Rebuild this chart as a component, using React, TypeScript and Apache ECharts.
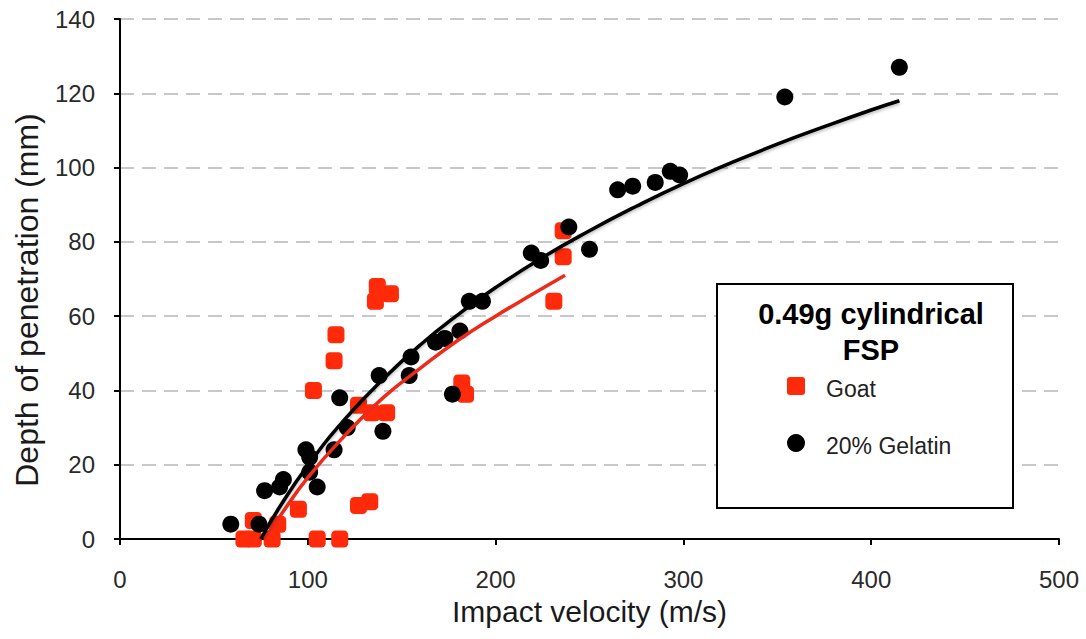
import React, { useEffect, useRef } from "react";
import * as echarts from "echarts";

// Goat (red squares): [impact velocity m/s, depth mm]
const goatPoints: number[][] = [
  [66, 0], [71, 0], [81, 0], [105, 0], [117, 0],
  [71, 5], [84, 4], [95, 8], [127, 9], [133, 10],
  [103, 40], [114, 48], [115, 55], [127, 36], [134, 34], [142, 34],
  [136, 64], [137, 68], [144, 66], [182, 42], [184, 39],
  [231, 64], [236, 83], [236, 76],
];

// 20% Gelatin (black circles)
const gelatinPoints: number[][] = [
  [59, 4], [74, 4], [77, 13], [85, 14], [87, 16], [99, 24], [101, 22],
  [101, 18], [105, 14], [114, 24], [117, 38], [121, 30], [140, 29],
  [138, 44], [154, 44], [155, 49], [168, 53], [173, 54], [181, 56],
  [177, 39], [186, 64], [193, 64], [219, 77], [224, 75], [239, 84],
  [250, 78], [265, 94], [273, 95], [285, 96], [293, 99], [298, 98],
  [354, 119], [415, 127],
];

// Trend curves
const goatTrend: number[][] = [
  [77, 0], [85, 6], [100, 16.5], [120, 28], [140, 38], [160, 46],
  [180, 53.5], [200, 60], [220, 66], [237, 71],
];
const gelatinTrend: number[][] = [
  [75, 0], [85, 8.6], [100, 19.8], [120, 32.4], [140, 43], [160, 52.3],
  [180, 60.4], [200, 67.7], [225, 75.8], [250, 83], [275, 89.6],
  [300, 95.7], [325, 101.2], [350, 106.3], [375, 111], [400, 115.5], [415, 118],
];

const xTitle = "Impact velocity (m/s)";
const yTitle = "Depth of penetration (mm)";
const legendTitle = ["0.49g cylindrical", "FSP"];
const goatName = "Goat";
const gelatinName = "20% Gelatin";

const RED = "#ff2a0a";
const FONT = "'Liberation Sans', Arial, Helvetica, sans-serif";

export default function App() {
  const ref = useRef<HTMLDivElement>(null);
  useEffect(() => {
    if (!ref.current) return;
    const chart = echarts.init(ref.current, null, { renderer: "svg" });
    const axisLineStyle = { color: "#000", width: 2 };
    chart.setOption({
      animation: false,
      backgroundColor: "#fff",
      grid: { left: 120, right: 27, top: 19, bottom: 100 },
      xAxis: {
        type: "value",
        min: 0,
        max: 500,
        interval: 100,
        name: xTitle,
        nameLocation: "middle",
        nameGap: 57,
        nameTextStyle: { fontSize: 30, color: "#1a1a1a", fontFamily: FONT },
        axisLine: { show: true, onZero: false, lineStyle: axisLineStyle },
        axisTick: { show: true, length: 6, lineStyle: axisLineStyle },
        axisLabel: { fontSize: 24, color: "#2a2a2a", margin: 28, fontFamily: FONT },
        splitLine: { show: false },
      },
      yAxis: {
        type: "value",
        min: 0,
        max: 140,
        interval: 20,
        axisLine: { show: true, onZero: false, lineStyle: axisLineStyle },
        axisTick: { show: true, length: 6, lineStyle: axisLineStyle },
        axisLabel: { fontSize: 24, color: "#2a2a2a", margin: 25, fontFamily: FONT },
        splitLine: {
          show: true,
          lineStyle: { color: "#c8c8c8", width: 2, type: [14, 8] },
        },
      },
      series: [
        {
          name: goatName,
          type: "scatter",
          data: goatPoints,
          symbol: "roundRect",
          symbolSize: 17,
          itemStyle: { color: RED, opacity: 1 },
          z: 2,
        },
        {
          name: gelatinName,
          type: "scatter",
          data: gelatinPoints,
          symbol: "circle",
          symbolSize: 17,
          itemStyle: { color: "#000", opacity: 1 },
          z: 3,
        },
        {
          type: "line",
          data: goatTrend,
          smooth: true,
          showSymbol: false,
          lineStyle: { color: "#ee2a1a", width: 3.5 },
          z: 4,
        },
        {
          type: "line",
          data: gelatinTrend,
          smooth: true,
          showSymbol: false,
          lineStyle: {
            color: "#000",
            width: 3.5,
            shadowColor: "rgba(0,0,0,0.25)",
            shadowBlur: 3,
            shadowOffsetY: 2,
          },
          z: 5,
        },
      ],
      graphic: [
        {
          type: "text",
          x: 27,
          y: 300,
          rotation: Math.PI / 2,
          style: {
            text: yTitle,
            fontSize: 32,
            fontFamily: FONT,
            fill: "#1a1a1a",
            align: "center",
            verticalAlign: "middle",
          },
          z: 11,
        },
        {
          type: "rect",
          shape: { x: 717, y: 284, width: 296, height: 224 },
          style: { fill: "#fff", stroke: "#000", lineWidth: 2 },
          z: 10,
        },
        {
          type: "text",
          x: 871,
          y: 314,
          style: {
            text: legendTitle[0],
            fontSize: 29,
            fontWeight: "bold",
            fontFamily: FONT,
            fill: "#000",
            align: "center",
            verticalAlign: "middle",
          },
          z: 11,
        },
        {
          type: "text",
          x: 871,
          y: 350,
          style: {
            text: legendTitle[1],
            fontSize: 29,
            fontWeight: "bold",
            fontFamily: FONT,
            fill: "#000",
            align: "center",
            verticalAlign: "middle",
          },
          z: 11,
        },
        {
          type: "rect",
          shape: { x: 787, y: 377, width: 18, height: 18, r: 3 },
          style: { fill: RED },
          z: 11,
        },
        {
          type: "text",
          x: 826,
          y: 389,
          style: {
            text: goatName,
            fontSize: 23,
            fontFamily: FONT,
            fill: "#222",
            align: "left",
            verticalAlign: "middle",
          },
          z: 11,
        },
        {
          type: "circle",
          shape: { cx: 796, cy: 443, r: 9 },
          style: { fill: "#000" },
          z: 11,
        },
        {
          type: "text",
          x: 826,
          y: 446,
          style: {
            text: gelatinName,
            fontSize: 23,
            fontFamily: FONT,
            fill: "#222",
            align: "left",
            verticalAlign: "middle",
          },
          z: 11,
        },
      ],
    });
    return () => chart.dispose();
  }, []);
  return (
    <div
      ref={ref}
      style={{ position: "absolute", left: 0, top: 0, width: 1086, height: 639 }}
    />
  );
}
